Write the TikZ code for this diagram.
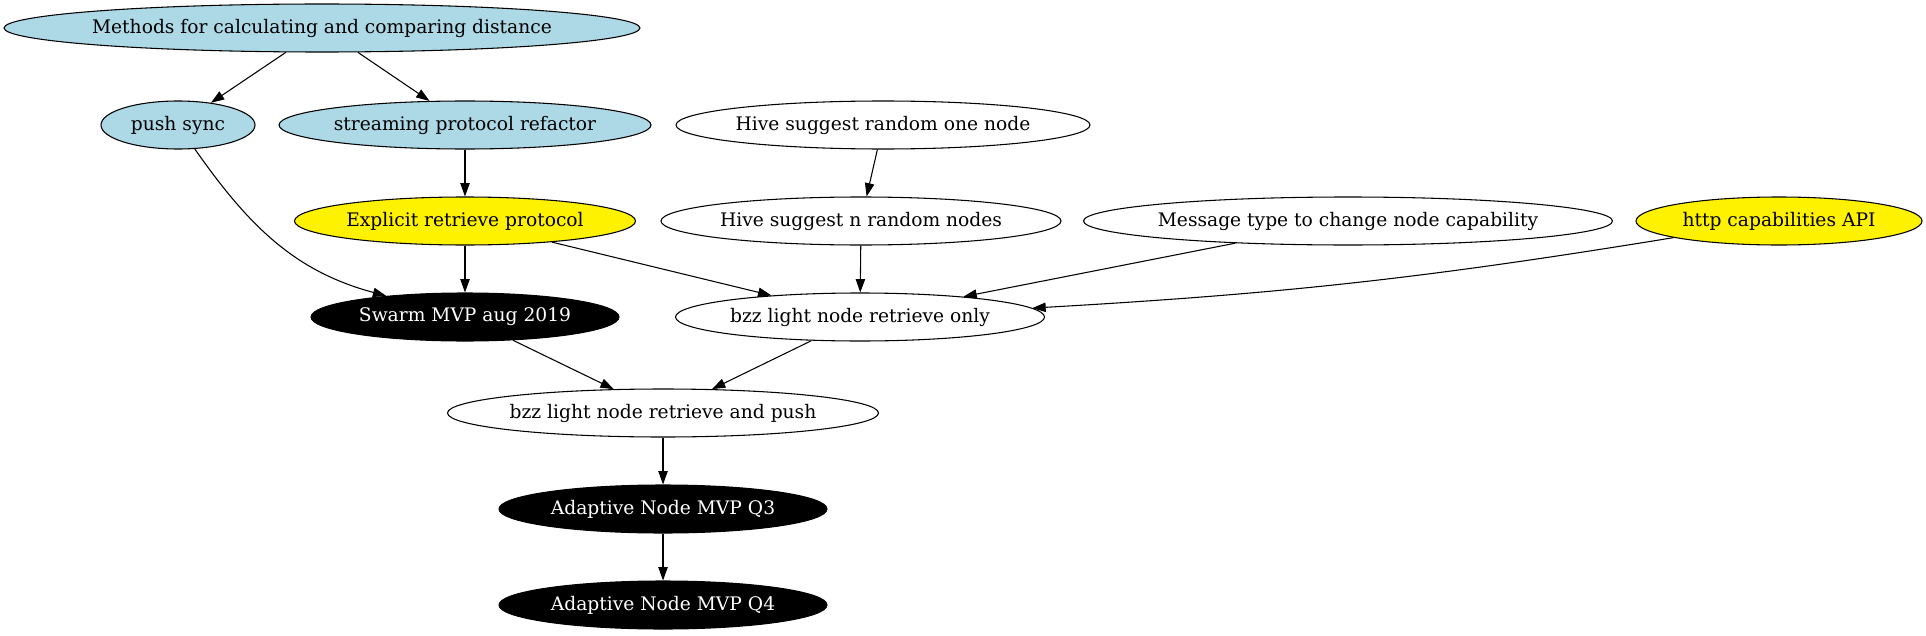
\documentclass[tikz,border=0pt]{standalone}
\usepackage{fontspec}
\setmainfont{DejaVu Serif}
\usetikzlibrary{shapes.geometric,arrows.meta}

\tikzset{
  gvnode/.style={draw, ellipse, inner sep=0pt, minimum height=36pt, line width=0.8pt,
    font=\fontsize{14}{16}\selectfont,
    execute at begin node={\hbox to 0pt\bgroup\hss},
    execute at end node={\hss\egroup}},
  planned/.style={fill={rgb,255:red,173;green,216;blue,230}},
  urgent/.style={fill=yellow},
  milestone/.style={fill=black, text=white}
}

\begin{document}
\begin{tikzpicture}[x=0.75pt, y=0.75pt, >={Triangle[length=10pt,width=7pt]}, line width=0.8pt]
        \useasboundingbox (0,0) rectangle (1926,-635);
        \begin{scope}[every node/.style={gvnode}]
        % Research
        \node[planned, minimum width=477pt] (methods) at (322,-28) {Methods for calculating and comparing distance};
        \node[planned, minimum width=115.5pt] (push) at (178,-125) {push sync};
        \node[planned, minimum width=279pt] (stream) at (465,-125) {streaming protocol refactor};
        
        % Hive and capabilities
        \node[minimum width=310.5pt] (hiveone) at (883,-125) {Hive suggest random one node};
        \node[urgent, minimum width=255.75pt] (explicit) at (465,-221) {Explicit retrieve protocol};
        \node[minimum width=300pt] (hiven) at (861,-221) {Hive suggest n random nodes};
        \node[minimum width=396.75pt] (msgtype) at (1348,-221) {Message type to change node capability};
        \node[urgent, minimum width=214.5pt] (http) at (1779,-221) {http capabilities API};
        
        % Light nodes
        \node[milestone, minimum width=231pt] (swarm) at (465,-317) {Swarm MVP aug 2019};
        \node[minimum width=276.75pt] (lightonly) at (860,-317) {bzz light node retrieve only};
        \node[minimum width=323.25pt] (lightpush) at (663,-413) {bzz light node retrieve and push};
        
        % Milestones
        \node[milestone, minimum width=246pt] (qthree) at (663,-509) {Adaptive Node MVP Q3};
        \node[milestone, minimum width=246pt] (qfour) at (663,-605) {Adaptive Node MVP Q4};
        \end{scope}
        
        \path[->] (methods) edge (push) edge (stream)
              (push) edge[out=-55, in=165] (swarm)
              (stream) edge (explicit)
              (explicit) edge (swarm) edge (lightonly)
              (hiveone) edge (hiven)
              (hiven) edge (lightonly)
              (msgtype) edge (lightonly)
              (http) edge[bend left=3] (lightonly)
              (swarm) edge (lightpush)
              (lightonly) edge (lightpush)
              (lightpush) edge (qthree)
              (qthree) edge (qfour);
    \end{tikzpicture}
\end{document}
